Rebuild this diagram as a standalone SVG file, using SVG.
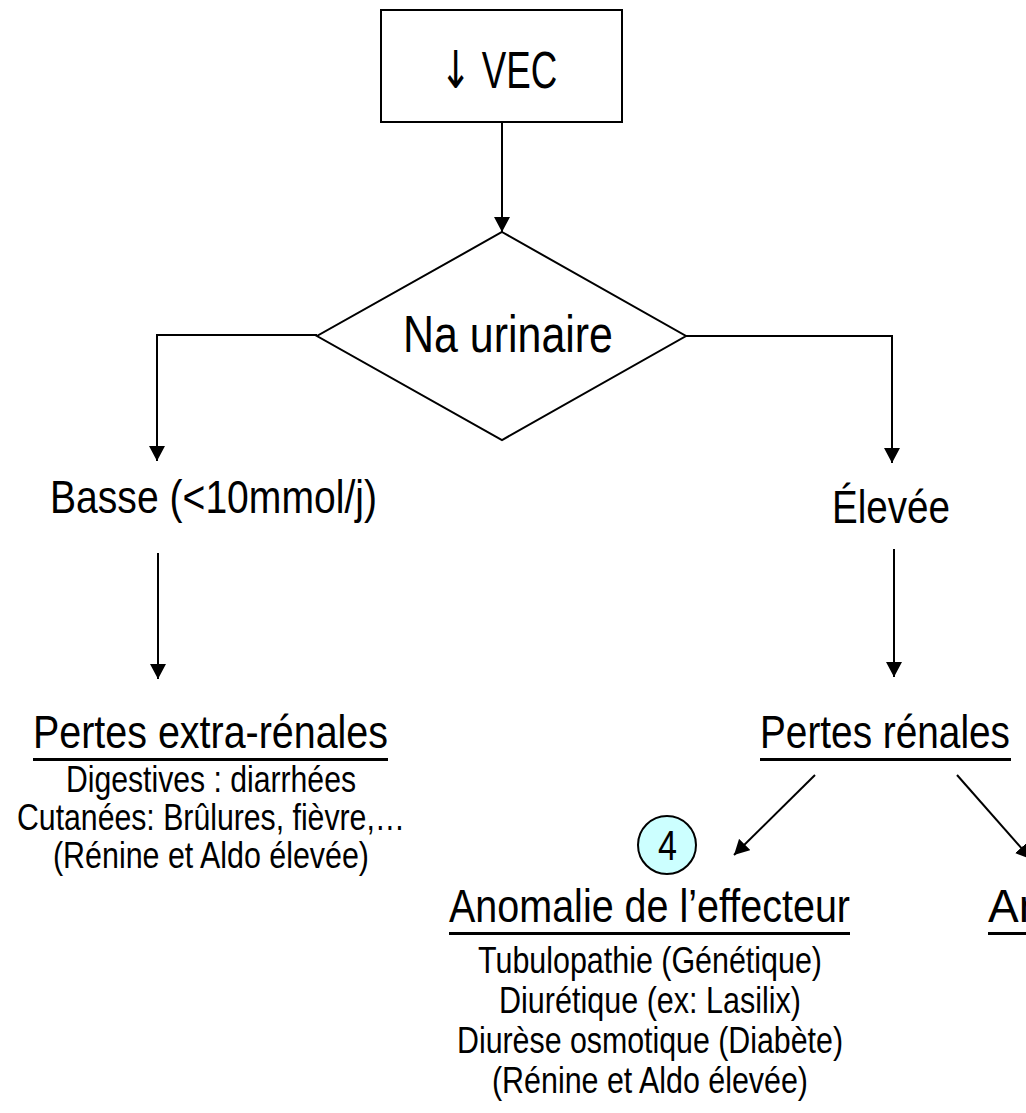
<svg xmlns="http://www.w3.org/2000/svg" width="1026" height="1113" viewBox="0 0 1026 1113">
  <defs>
    <marker id="arrow" markerUnits="userSpaceOnUse" markerWidth="16" markerHeight="16" refX="15" refY="8" orient="auto">
      <path d="M0,0 L15,8 L0,16 Z" fill="#000"/>
    </marker>
    <style>
      .lbl { font-family: "Liberation Sans Narrow", "Arial Narrow", "Liberation Sans", Arial, sans-serif; fill: #000; }
      .head { font-size: 46px; }
      .desc { font-size: 36px; }
      .shape { fill: #fff; stroke: #000; stroke-width: 2; }
      .link { fill: none; stroke: #000; stroke-width: 2; }
      .uline { fill: #000; }
    </style>
  </defs>
  <rect width="1026" height="1113" fill="#fff"/>

  <!-- connectors -->
  <g id="connectors">
    <path class="link" d="M502,122 V232" marker-end="url(#arrow)"/>
    <path class="link" d="M317,335 H157 V461" marker-end="url(#arrow)"/>
    <path class="link" d="M686,336 H892 V463" marker-end="url(#arrow)"/>
    <path class="link" d="M158,553 V679" marker-end="url(#arrow)"/>
    <path class="link" d="M894,549 V677" marker-end="url(#arrow)"/>
    <path class="link" d="M815,775 L734,855" marker-end="url(#arrow)"/>
    <path class="link" d="M957,775 L1031,859" marker-end="url(#arrow)"/>
  </g>

  <!-- start: reduced extracellular volume -->
  <g id="node-vec">
    <rect class="shape" x="381" y="10" width="241" height="112"/>
    <text class="lbl" transform="translate(440,88) scale(0.72,1)" font-size="51"><tspan font-family="DejaVu Sans" font-size="52">↓</tspan> <tspan x="58">VEC</tspan></text>
  </g>

  <!-- decision on urinary sodium -->
  <g id="node-na">
    <polygon class="shape" points="502,232 686,336 502,440 317,336"/>
    <text class="lbl" x="403" y="352" font-size="52" textLength="210" lengthAdjust="spacingAndGlyphs">Na urinaire</text>
  </g>

  <g id="node-basse">
    <text class="lbl head" x="50" y="513" textLength="327" lengthAdjust="spacingAndGlyphs">Basse (&lt;10mmol/j)</text>
  </g>

  <g id="node-elevee">
    <text class="lbl head" x="832" y="523" textLength="118" lengthAdjust="spacingAndGlyphs">Élevée</text>
  </g>

  <!-- extra-renal losses -->
  <g id="node-extra-renal">
    <text class="lbl head" x="33" y="748" textLength="355" lengthAdjust="spacingAndGlyphs">Pertes extra-rénales</text>
    <rect class="uline" x="33" y="758" width="355" height="3"/>
    <text class="lbl desc" x="66" y="792" textLength="290" lengthAdjust="spacingAndGlyphs">Digestives : diarrhées</text>
    <text class="lbl desc" x="17" y="830" textLength="388" lengthAdjust="spacingAndGlyphs">Cutanées: Brûlures, fièvre,…</text>
    <text class="lbl desc" x="53" y="868" textLength="316" lengthAdjust="spacingAndGlyphs">(Rénine et Aldo élevée)</text>
  </g>

  <!-- renal losses -->
  <g id="node-renal">
    <text class="lbl" transform="translate(760,748) scale(0.843,1)" font-size="46">Pertes rénales</text>
    <rect class="uline" x="760" y="758" width="251" height="3"/>
  </g>

  <g id="node-badge-4">
    <ellipse cx="667" cy="845" rx="29" ry="29" fill="#ccffff" stroke="#000" stroke-width="2"/>
    <text class="lbl" x="658" y="860" font-size="42" textLength="19" lengthAdjust="spacingAndGlyphs">4</text>
  </g>

  <!-- effector anomaly -->
  <g id="node-effecteur">
    <text class="lbl head" x="449" y="922" textLength="401" lengthAdjust="spacingAndGlyphs">Anomalie de l’effecteur</text>
    <rect class="uline" x="449" y="932" width="401" height="3"/>
    <text class="lbl desc" x="478" y="973" textLength="344" lengthAdjust="spacingAndGlyphs">Tubulopathie (Génétique)</text>
    <text class="lbl desc" x="499" y="1013" textLength="302" lengthAdjust="spacingAndGlyphs">Diurétique (ex: Lasilix)</text>
    <text class="lbl desc" x="457" y="1053" textLength="386" lengthAdjust="spacingAndGlyphs">Diurèse osmotique (Diabète)</text>
    <text class="lbl desc" x="492" y="1093" textLength="316" lengthAdjust="spacingAndGlyphs">(Rénine et Aldo élevée)</text>
  </g>

  <!-- second renal branch, running past the right edge -->
  <g id="node-renal-2">
    <text class="lbl head" x="988" y="922">An</text>
    <rect class="uline" x="988" y="932" width="40" height="3"/>
  </g>
</svg>
